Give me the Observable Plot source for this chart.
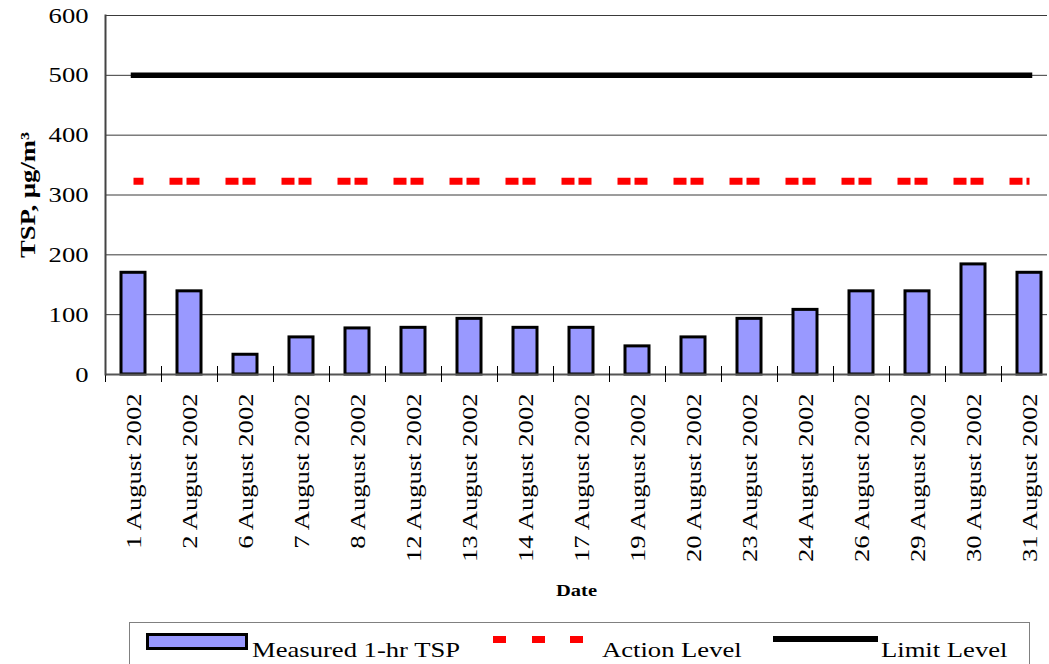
<!DOCTYPE html>
<html><head><meta charset="utf-8">
<script src="https://cdn.jsdelivr.net/npm/d3@7"></script>
<script src="https://cdn.jsdelivr.net/npm/@observablehq/plot@0.6"></script>
<style>
html,body{margin:0;padding:0;background:#fff;overflow:hidden;width:1049px;height:664px;}
#chart{position:absolute;left:0;top:0;}
#chart svg{display:block;overflow:hidden;}
#legend{position:absolute;left:129px;top:622px;width:901px;height:60px;border:1px solid #808080;box-sizing:border-box;font-family:"Liberation Serif","Times New Roman",serif;font-size:22px;color:#000;}
#legend .sw{position:absolute;box-sizing:border-box;}
#legend .tx{position:absolute;line-height:22px;white-space:nowrap;top:16px;transform:scaleX(1.21);transform-origin:0 0;}
</style></head>
<body>
<div id="chart"></div>
<div id="legend"></div>
<script>
const dates = ["1 August 2002","2 August 2002","6 August 2002","7 August 2002","8 August 2002","12 August 2002","13 August 2002","14 August 2002","17 August 2002","19 August 2002","20 August 2002","23 August 2002","24 August 2002","26 August 2002","29 August 2002","30 August 2002","31 August 2002"];
const tsp = [170,139,33,62,77,78,93,78,78,47,62,93,108,139,139,184,170];
const actionLevel = [323,323,323,323,323,323,323,323,323,323,323,323,323,323,323,323,323];
const limitLevel = [500,500,500,500,500,500,500,500,500,500,500,500,500,500,500,500,500];
const yTicks = [0,100,200,300,400,500,600];
const seriesNames = ["Measured 1-hr TSP","Action Level","Limit Level"];
const yTitle = "TSP, µg/m³";
const xTitle = "Date";

const data = dates.map((d,i)=>({date:d, tsp:tsp[i], action:actionLevel[i], limit:limitLevel[i]}));

const chart = Plot.plot({
  width: 1049,
  height: 610,
  marginLeft: 105,
  marginRight: 2,
  marginTop: 15,
  marginBottom: 236,
  style: {background:"#fff", fontFamily:"'Liberation Serif','Times New Roman',serif", color:"#000", overflow:"hidden"},
  x: {type:"band", domain: dates, range:[105,1057], paddingInner:0.57, paddingOuter:0.285},
  y: {domain:[0,600], range:[374,15]},
  marks: [
    Plot.ruleY(yTicks.filter(t=>t>0), {stroke:"#3a3a3a", strokeWidth:1}),
    Plot.barY(data, {x:"date", y:"tsp", fill:"#9999ff", stroke:"#000", strokeWidth:3}),
    Plot.ruleY([0], {stroke:"#555", strokeWidth:2}),
    Plot.ruleX(dates, {x:d=>d, y1:0, y2:0, dx:-28, insetTop:-8, insetBottom:-8, stroke:"#000", strokeWidth:1}),
    Plot.frame({anchor:"left", stroke:"#444", strokeWidth:2}),
    Plot.lineY(data, {x:"date", y:"action", stroke:"#ff0000", strokeWidth:7, strokeLinecap:"butt", strokeDasharray:"13,26,13,4", strokeDashoffset:3}),
    Plot.lineY(data, {x:"date", y:"limit", stroke:"#000", strokeWidth:5.5, strokeLinecap:"square"}),
    Plot.axisY(yTicks, {tickSize:0, tickPadding:17, fontSize:22, label:null}),
    Plot.axisX({tickRotate:-90, tickSize:0, tickPadding:19, fontSize:22, label:null}),
    Plot.text([yTitle], {frameAnchor:"left", textAnchor:"middle", lineAnchor:"middle", rotate:-90, dx:-78, fontSize:22, fontWeight:"bold", fill:"#000"}),
    Plot.text([xTitle], {frameAnchor:"bottom", textAnchor:"middle", lineAnchor:"middle", dy:216, fontSize:17, fontWeight:"bold", fill:"#000"})
  ]
});
document.getElementById("chart").appendChild(chart);

// Stretch text horizontally (along its writing direction) like the reference's wide serif glyphs
d3.select(chart).selectAll("text").each(function(){
  const t = this.getAttribute("transform") || "";
  this.setAttribute("transform", (t + " scale(1.21,1)").trim());
});

// Legend (HTML, below the SVG)
const lg = document.getElementById("legend");
const ox = 130, oy = 623;
function add(cls, css, text){
  const e = document.createElement("div");
  e.className = cls;
  Object.assign(e.style, css);
  if (text) e.textContent = text;
  lg.appendChild(e);
  return e;
}
add("sw", {left:(146-ox)+"px", top:(633-oy)+"px", width:"102px", height:"17px", background:"#9999ff", border:"3px solid #000"});
add("tx", {left:(252-ox)+"px"}, seriesNames[0]);
[493,532,570].forEach(x=>add("sw", {left:(x-ox)+"px", top:(636-oy)+"px", width:"13px", height:"7px", background:"#ff0000"}));
add("tx", {left:(602-ox)+"px"}, seriesNames[1]);
add("sw", {left:(773-ox)+"px", top:(636-oy)+"px", width:"105px", height:"6px", background:"#000"});
add("tx", {left:(881-ox)+"px"}, seriesNames[2]);
</script>
</body></html>
